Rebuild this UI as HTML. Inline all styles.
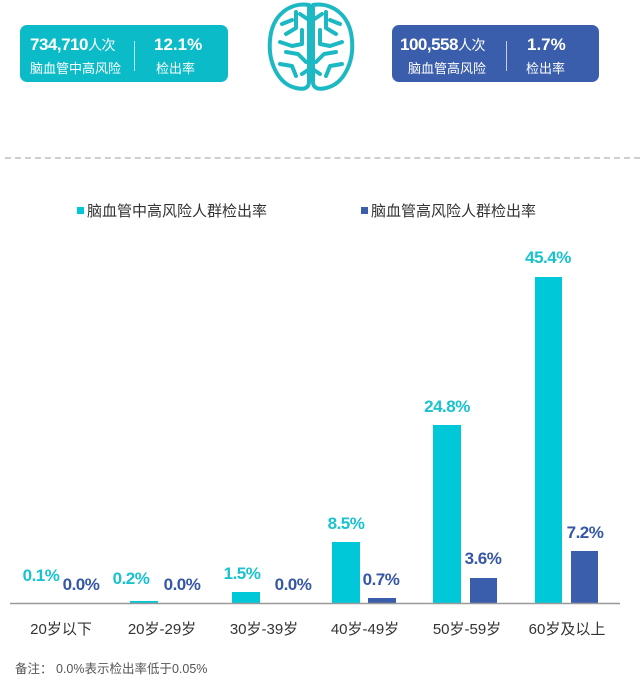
<!DOCTYPE html>
<html><head><meta charset="utf-8"><style>
body{margin:0;width:640px;height:686px;background:#fff;position:relative;overflow:hidden;font-family:"Liberation Sans","Noto Sans CJK SC",sans-serif}
.card{position:absolute;top:25px;height:57px;border-radius:7px;color:#fff}
.t{position:absolute;text-align:center;white-space:nowrap}
.a{position:absolute;font-size:16px;font-weight:bold;white-space:nowrap}
</style></head><body>
<div class="card" style="left:20px;width:208px;background:#0bbcc8">
 <div class="t" style="left:10px;top:10px;font-size:17px;font-weight:bold;letter-spacing:-0.5px">734,710<span style="font-size:14px;font-weight:normal">人次</span></div>
 <div class="t" style="left:10px;top:33px;font-size:13px">脑血管中高风险</div>
 <div style="position:absolute;left:114px;top:16px;width:1px;height:30px;background:#fff;opacity:.7"></div>
 <div class="t" style="left:134px;top:10px;font-size:17px;font-weight:bold">12.1%</div>
 <div class="t" style="left:136px;top:33px;font-size:13px">检出率</div>
</div>
<div class="card" style="left:392px;width:207px;background:#3a5eab">
 <div class="t" style="left:8px;top:10px;font-size:17px;font-weight:bold;letter-spacing:-0.5px">100,558<span style="font-size:14px;font-weight:normal">人次</span></div>
 <div class="t" style="left:16px;top:33px;font-size:13px">脑血管高风险</div>
 <div style="position:absolute;left:114px;top:16px;width:1px;height:30px;background:#fff;opacity:.7"></div>
 <div class="t" style="left:135px;top:10px;font-size:17px;font-weight:bold">1.7%</div>
 <div class="t" style="left:134px;top:33px;font-size:13px">检出率</div>
</div>
<svg style="position:absolute;left:266px;top:0" width="90" height="96" viewBox="0 0 90 96" fill="none" stroke="#1cb9c4" stroke-width="4" stroke-linecap="round" stroke-linejoin="round">
 <path d="M43 5 C25 2 6 14 4 40 C2 62 12 84 30 88 C38 90 43 88 43 82 Z"/>
 <path d="M47 5 C65 2 84 14 86 40 C88 62 78 84 60 88 C52 90 47 88 47 82 Z"/>
 <path d="M43 20 L34 14 M30 12 L30 28 L20 34 M36 30 L36 44 L26 46 L14 42 M20 52 L32 54 L40 62 M14 64 L26 66 L30 76 M36 74 L42 70 M26 20 L16 24"/>
 <path d="M47 20 L56 14 M60 12 L60 28 L70 34 M54 30 L54 44 L64 46 L76 42 M70 52 L58 54 L50 62 M76 64 L64 66 L60 76 M54 74 L48 70 M64 20 L74 24"/>
</svg>
<div style="position:absolute;left:5px;right:0;top:157px;border-top:2px dashed #cfcfcf"></div>
<div style="position:absolute;left:77px;top:207px;width:7px;height:7px;background:#00c8d8"></div>
<div class="a" style="left:87px;top:200px;font-size:15px;font-weight:normal;color:#333">脑血管中高风险人群检出率</div>
<div style="position:absolute;left:361px;top:207px;width:7px;height:7px;background:#3a5eab"></div>
<div class="a" style="left:371px;top:200px;font-size:15px;font-weight:normal;color:#333">脑血管高风险人群检出率</div>
<svg style="position:absolute;left:0;top:0" width="640" height="686">
 <g fill="#00c8d8">
  <rect x="130" y="601" width="28" height="2"/><rect x="232" y="592" width="28" height="11"/>
  <rect x="332" y="542" width="28" height="61"/><rect x="433" y="425" width="28" height="178"/>
  <rect x="535" y="277" width="27" height="326"/>
 </g>
 <g fill="#3a5eab">
  <rect x="368" y="598" width="28" height="5"/><rect x="470" y="578" width="27" height="25"/>
  <rect x="571" y="551" width="27" height="52"/>
 </g>
 <line x1="10" y1="603.5" x2="620" y2="603.5" stroke="#999" stroke-width="1.5"/>
 <g font-family="Liberation Sans,sans-serif" font-size="17" font-weight="bold" text-anchor="middle" fill="#19c2cf" letter-spacing="-0.5">
  <text x="41" y="581">0.1%</text><text x="131" y="584">0.2%</text><text x="242" y="579">1.5%</text>
  <text x="346" y="529">8.5%</text><text x="447" y="412">24.8%</text><text x="548" y="263">45.4%</text>
 </g>
 <g font-family="Liberation Sans,sans-serif" font-size="17" font-weight="bold" text-anchor="middle" fill="#3557a5" letter-spacing="-0.5">
  <text x="81" y="590">0.0%</text><text x="182" y="590">0.0%</text><text x="293" y="590">0.0%</text>
  <text x="381" y="585">0.7%</text><text x="483" y="564">3.6%</text><text x="585" y="538">7.2%</text>
 </g>
 <g font-family="Liberation Sans,Noto Sans CJK SC,sans-serif" font-size="15" text-anchor="middle" fill="#333">
  <text x="61" y="634">20岁以下</text><text x="162" y="634">20岁-29岁</text><text x="264" y="634">30岁-39岁</text>
  <text x="365" y="634">40岁-49岁</text><text x="467" y="634">50岁-59岁</text><text x="567" y="634">60岁及以上</text>
 </g>
 <text x="15" y="673" font-family="Liberation Sans,Noto Sans CJK SC,sans-serif" font-size="12.5" fill="#555">备注：  0.0%表示检出率低于0.05%</text>
</svg>
</body></html>
